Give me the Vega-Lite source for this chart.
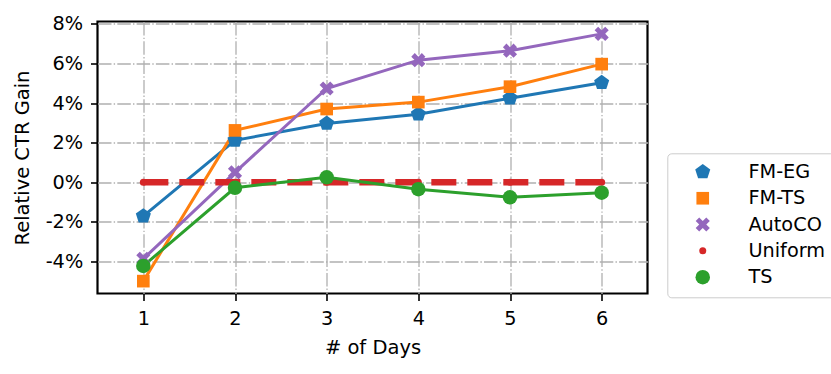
{
  "$schema": "https://vega.github.io/schema/vega-lite/v6.json",
  "width": 550,
  "height": 272,
  "autosize": {"type": "none"},
  "padding": {"left": 97.5, "top": 21.5, "right": 183.5, "bottom": 80.5},
  "background": "white",
  "config": {
    "font": "DejaVu Sans",
    "view": {"stroke": "#000000", "strokeWidth": 2.2},
    "axis": {
      "domain": false,
      "grid": true,
      "gridColor": "#b0b0b0",
      "gridWidth": 1.3,
      "gridDash": [13.5, 2.2, 1.4, 2.2],
      "gridOpacity": 1,
      "tickColor": "#000000",
      "tickSize": 7,
      "tickWidth": 1.6,
      "labelFont": "DejaVu Sans",
      "labelFontSize": 19.3,
      "labelColor": "#000000",
      "titleFont": "DejaVu Sans",
      "titleFontSize": 19.5,
      "titleFontWeight": "normal",
      "titleColor": "#000000"
    },
    "legend": {
      "labelFont": "DejaVu Sans",
      "labelFontSize": 19.3,
      "labelColor": "#000000"
    }
  },
  "data": {
    "values": [
      {"day": 1, "series": "FM-EG", "gain": -1.71},
      {"day": 2, "series": "FM-EG", "gain": 2.12},
      {"day": 3, "series": "FM-EG", "gain": 2.97},
      {"day": 4, "series": "FM-EG", "gain": 3.44},
      {"day": 5, "series": "FM-EG", "gain": 4.25},
      {"day": 6, "series": "FM-EG", "gain": 5.03},
      {"day": 1, "series": "FM-TS", "gain": -5.0},
      {"day": 2, "series": "FM-TS", "gain": 2.62},
      {"day": 3, "series": "FM-TS", "gain": 3.7},
      {"day": 4, "series": "FM-TS", "gain": 4.05},
      {"day": 5, "series": "FM-TS", "gain": 4.83},
      {"day": 6, "series": "FM-TS", "gain": 5.97},
      {"day": 1, "series": "AutoCO", "gain": -3.87},
      {"day": 2, "series": "AutoCO", "gain": 0.5},
      {"day": 3, "series": "AutoCO", "gain": 4.74},
      {"day": 4, "series": "AutoCO", "gain": 6.17},
      {"day": 5, "series": "AutoCO", "gain": 6.65},
      {"day": 6, "series": "AutoCO", "gain": 7.5},
      {"day": 1, "series": "Uniform", "gain": 0},
      {"day": 2, "series": "Uniform", "gain": 0},
      {"day": 3, "series": "Uniform", "gain": 0},
      {"day": 4, "series": "Uniform", "gain": 0},
      {"day": 5, "series": "Uniform", "gain": 0},
      {"day": 6, "series": "Uniform", "gain": 0},
      {"day": 1, "series": "TS", "gain": -4.23},
      {"day": 2, "series": "TS", "gain": -0.28},
      {"day": 3, "series": "TS", "gain": 0.25},
      {"day": 4, "series": "TS", "gain": -0.35},
      {"day": 5, "series": "TS", "gain": -0.76},
      {"day": 6, "series": "TS", "gain": -0.53}
    ]
  },
  "encoding": {
    "x": {
      "field": "day",
      "type": "quantitative",
      "scale": {"domain": [0.5, 6.5], "nice": false, "zero": false},
      "axis": {
        "title": "# of Days",
        "values": [1, 2, 3, 4, 5, 6],
        "format": "d",
        "labelBaseline": "alphabetic",
        "labelPadding": 24,
        "titleX": 275,
        "titleY": 60,
        "titleBaseline": "alphabetic"
      }
    },
    "y": {
      "field": "gain",
      "type": "quantitative",
      "scale": {"domain": [-5.625, 8.125], "nice": false, "zero": false},
      "axis": {
        "title": "Relative CTR Gain",
        "values": [-4, -2, 0, 2, 4, 6, 8],
        "labelExpr": "datum.value + '%'",
        "labelPadding": 7.8,
        "labelBaseline": "middle",
        "titleX": -69,
        "titleY": 136,
        "titleBaseline": "alphabetic"
      }
    },
    "color": {
      "field": "series",
      "type": "nominal",
      "scale": {
        "domain": ["FM-EG", "FM-TS", "AutoCO", "Uniform", "TS"],
        "range": ["#1f77b4", "#ff7f0e", "#9467bd", "#d62728", "#2ca02c"]
      },
      "legend": {
        "title": null,
        "orient": "none",
        "legendX": 569.8,
        "legendY": 131.8,
        "padding": 9,
        "rowPadding": 6.3,
        "symbolOffset": 16.8,
        "labelOffset": 36,
        "strokeColor": "#cccccc",
        "cornerRadius": 4,
        "fillColor": "white",
        "symbolStrokeWidth": 0
      }
    }
  },
  "layer": [
    {
      "transform": [{"filter": "datum.series != 'Uniform' && datum.series != 'TS'"}],
      "mark": {"type": "line", "strokeWidth": 3},
      "encoding": {"detail": {"field": "series"}}
    },
    {
      "transform": [{"filter": "datum.series == 'Uniform'"}],
      "mark": {"type": "line", "strokeWidth": 6.5, "strokeDash": [25, 11], "strokeCap": "butt"},
      "encoding": {}
    },
    {
      "transform": [{"filter": "datum.series == 'TS'"}],
      "mark": {"type": "line", "strokeWidth": 3},
      "encoding": {}
    },
    {
      "mark": {"type": "point", "filled": true, "opacity": 1, "strokeWidth": 0},
      "encoding": {
        "shape": {
          "field": "series",
          "type": "nominal",
          "scale": {
            "domain": ["FM-EG", "FM-TS", "AutoCO", "Uniform", "TS"],
            "range": [
              "M0,-1L0.951,-0.309L0.588,0.809L-0.588,0.809L-0.951,-0.309Z",
              "square",
              "M-1,-0.5L-0.5,-1L0,-0.5L0.5,-1L1,-0.5L0.5,0L1,0.5L0.5,1L0,0.5L-0.5,1L-1,0.5L-0.5,0Z",
              "circle",
              "circle"
            ]
          },
          "legend": {"title": null}
        },
        "size": {
          "field": "series",
          "type": "nominal",
          "scale": {
            "type": "ordinal",
            "domain": ["FM-EG", "FM-TS", "AutoCO", "Uniform", "TS"],
            "range": [250, 160, 200, 49, 210]
          },
          "legend": {"title": null}
        }
      }
    }
  ]
}
